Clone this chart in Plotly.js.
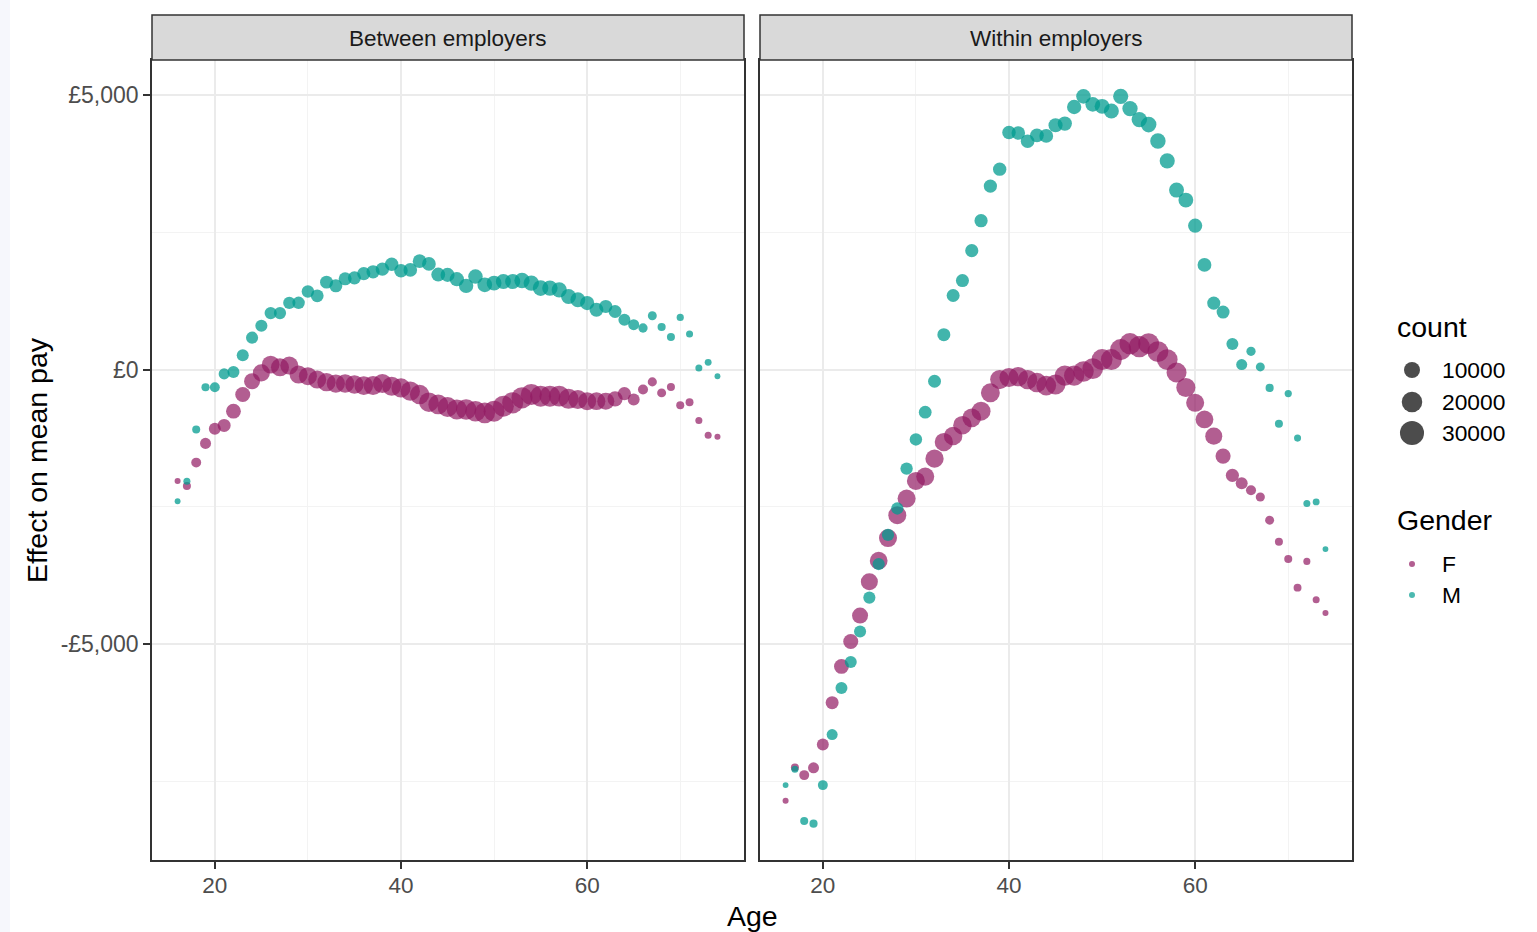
<!DOCTYPE html>
<html>
<head>
<meta charset="utf-8">
<script src="https://cdn.plot.ly/plotly-3.0.1.min.js"></script>
<style>
  html, body { margin: 0; padding: 0; background: #ffffff; }
  #chart { width: 1537px; height: 932px; }
</style>
</head>
<body>
<div id="chart"></div>
<script>
// ---------------- DATA ----------------
const ages = [16,17,18,19,20,21,22,23,24,25,26,27,28,29,30,31,32,33,34,35,36,37,38,39,40,41,42,43,44,45,
              46,47,48,49,50,51,52,53,54,55,56,57,58,59,60,61,62,63,64,65,66,67,68,69,70,71,72,73,74];

// Between employers – effect on mean pay (£)
const betweenF = [-2027,-2118,-1693,-1343,-1076,-1016,-757,-454,-212,-60,91,42,73,-91,-121,-182,-230,-254,-254,-272,
                  -290,-290,-254,-303,-333,-393,-454,-593,-635,-680,-726,-726,-757,-787,-757,-666,-605,-514,-454,-484,
                  -484,-484,-532,-545,-575,-575,-575,-532,-436,-545,-363,-224,-424,-315,-648,-593,-926,-1193,-1222];
const betweenM = [-2396,-2033,-1089,-321,-321,-78,-42,260,581,799,1029,1029,1216,1216,1421,1343,1592,1525,1652,1670,
                  1748,1780,1828,1918,1800,1815,1973,1924,1730,1724,1646,1525,1693,1543,1574,1603,1603,1621,1574,1483,
                  1483,1452,1330,1271,1211,1089,1149,1058,908,817,757,980,775,594,949,648,31,132,-122];

// Within employers – effect on mean pay (£)
const withinF = [-7847,-7242,-7381,-7248,-6824,-6062,-5403,-4949,-4477,-3860,-3479,-3067,-2650,-2347,-2027,-1948,-1621,-1319,-1210,-1011,
                 -877,-757,-423,-182,-145,-127,-182,-236,-290,-272,-109,-109,-36,18,182,182,363,472,417,472,
                 327,182,-54,-327,-604,-908,-1211,-1574,-1924,-2069,-2196,-2318,-2741,-3134,-3449,-3969,-3491,-4187,-4429];
const withinM = [-7563,-7273,-8216,-8264,-7563,-6643,-5795,-5323,-4768,-4150,-3539,-3008,-2528,-1802,-1271,-775,-212,635,1349,1621,
                 2165,2710,3340,3648,4314,4307,4156,4265,4253,4447,4477,4779,4973,4828,4792,4706,4973,4750,4550,4459,
                 4162,3799,3267,3086,2619,1906,1211,1047,466,91,332,49,-333,-986,-436,-1247,-2438,-2408,-3267];

// count (point size) by age
const countF = [90,750,2000,3000,4000,5300,8000,8300,10000,12000,13500,14000,14000,14000,14000,14000,14500,14500,15000,15000,
                15500,16000,16000,16500,16500,17000,17000,17500,18000,18500,19000,19500,20000,20500,21000,21000,21500,21500,21500,21000,
                21000,20500,18500,16500,14000,13500,12000,8500,5500,4000,2100,1400,1300,750,750,700,350,330,90];
const countM = [60,350,750,800,2000,3000,4000,4100,4200,4200,4300,4300,4400,4500,4600,5000,5200,5300,5300,5400,
                5500,5600,5700,5800,6000,6100,6200,6300,6500,6800,7000,7200,7500,7800,8000,8300,8500,8800,9000,9200,
                9000,8500,8200,8000,7000,6500,5500,5200,4000,3000,1500,1300,800,750,400,350,330,300,60];

const panelNames = ['Between employers', 'Within employers'];
const genders = ['F', 'M'];
const legendCounts = [10000, 20000, 30000];
const yTickVals = [-5000, 0, 5000];
const yTickText = ['-£5,000', '£0', '£5,000'];
const xTickVals = [20, 40, 60];

// ---------------- STYLE ----------------
const W = 1537, H = 932;
const FONT = 'Liberation Sans, Arial, Helvetica, sans-serif';
const colF = 'rgb(146,26,99)';
const colM = 'rgb(0,155,143)';
const ALPHA = 0.7;
const sizeOf = c => 5 + 0.11 * Math.sqrt(c);     // size scale (diameter px)

const px = v => v / W;                 // pixel → paper x
const py = v => (H - v) / H;           // pixel row → paper y
const plotTop = 60, plotBot = 860;
const panelX = [[152, 744], [760, 1352]];
const stripTop = 15;

const xRange = [13.25, 76.85];
const yRange = [-8926, 5635];

// ---------------- TRACES ----------------
const traces = [];
const series = [[betweenF, betweenM], [withinF, withinM]];
const counts = [countF, countM];
const colors = [colF, colM];
series.forEach((pair, p) => {
  pair.forEach((vals, g) => {
    traces.push({
      type: 'scatter', mode: 'markers',
      x: ages, y: vals,
      xaxis: p === 0 ? 'x' : 'x2', yaxis: p === 0 ? 'y' : 'y2',
      name: genders[g], showlegend: false,
      marker: { color: colors[g], opacity: g === 0 ? ALPHA : 0.74, size: counts[g].map(sizeOf), line: { width: 0 } },
      hoverinfo: 'x+y'
    });
  });
});

// legend panel (own hidden axes, pixel-like ranges)
const legX = 1412;
const countRows = [370, 402, 433];
const genderRows = [564, 595];
traces.push({
  type: 'scatter', mode: 'markers', xaxis: 'x3', yaxis: 'y3', showlegend: false, hoverinfo: 'skip',
  x: legendCounts.map(() => legX), y: countRows,
  marker: { color: 'rgb(51,51,51)', opacity: 0.88, size: legendCounts.map(sizeOf), line: { width: 0 } }
});
traces.push({
  type: 'scatter', mode: 'markers', xaxis: 'x3', yaxis: 'y3', showlegend: false, hoverinfo: 'skip',
  x: genders.map(() => legX), y: genderRows,
  marker: { color: colors, opacity: ALPHA, size: 6, line: { width: 0 } }
});

// ---------------- LAYOUT ----------------
const gridMajor = '#EBEBEB', gridMinor = '#F3F3F3', frame = '#333333';
function xAxis(p) {
  return {
    domain: [px(panelX[p][0]), px(panelX[p][1])], range: xRange, anchor: p === 0 ? 'y' : 'y2',
    tickmode: 'array', tickvals: xTickVals, ticks: 'outside', ticklen: 7, tickwidth: 1.5, tickcolor: frame,
    ticklabelstandoff: -3,
    tickfont: { family: FONT, size: 22.5, color: '#4D4D4D' },
    showgrid: true, gridcolor: gridMajor, gridwidth: 2,
    minor: { tickmode: 'array', tickvals: [10, 30, 50, 70], showgrid: true, gridcolor: gridMinor, gridwidth: 1, ticks: '' },
    zeroline: false, showline: true, linecolor: frame, linewidth: 1.5, mirror: true, fixedrange: true
  };
}
function yAxis(p) {
  return {
    domain: [py(plotBot), py(plotTop)], range: yRange, anchor: p === 0 ? 'x' : 'x2',
    tickmode: 'array', tickvals: yTickVals, ticktext: yTickText,
    ticks: p === 0 ? 'outside' : '', ticklen: 7, tickwidth: 1.5, tickcolor: frame,
    showticklabels: p === 0,
    tickfont: { family: FONT, size: 23, color: '#4D4D4D' },
    showgrid: true, gridcolor: gridMajor, gridwidth: 2,
    minor: { tickmode: 'array', tickvals: [-7500, -2500, 2500], showgrid: true, gridcolor: gridMinor, gridwidth: 1, ticks: '' },
    zeroline: false, showline: true, linecolor: frame, linewidth: 1.5, mirror: true, fixedrange: true
  };
}

const shapes = [
  { type: 'rect', xref: 'paper', yref: 'paper', x0: 0, x1: px(10), y0: 0, y1: 1,
    fillcolor: '#F6F7FC', line: { width: 0 }, layer: 'below' }
];
const annotations = [];
panelNames.forEach((name, p) => {
  shapes.push({
    type: 'rect', xref: 'paper', yref: 'paper',
    x0: px(panelX[p][0]), x1: px(panelX[p][1]), y0: py(plotTop), y1: py(stripTop),
    fillcolor: '#D9D9D9', line: { color: frame, width: 1.5 }
  });
  annotations.push({
    xref: 'paper', yref: 'paper', x: px((panelX[p][0] + panelX[p][1]) / 2), y: py((stripTop + plotTop) / 2 + 1),
    text: name, showarrow: false, xanchor: 'center', yanchor: 'middle',
    font: { family: FONT, size: 22.5, color: '#1A1A1A' }
  });
});
// axis titles
annotations.push({
  xref: 'paper', yref: 'paper', x: px(37), y: py((plotTop + plotBot) / 2), text: 'Effect on mean pay',
  textangle: -90, showarrow: false, xanchor: 'center', yanchor: 'middle',
  font: { family: FONT, size: 28.5, color: '#000000' }
});
annotations.push({
  xref: 'paper', yref: 'paper', x: px(752), y: py(916), text: 'Age',
  showarrow: false, xanchor: 'center', yanchor: 'middle',
  font: { family: FONT, size: 28.5, color: '#000000' }
});
// legend texts
annotations.push({ xref: 'x3', yref: 'y3', x: 1395, y: 327, text: 'count', showarrow: false,
  xanchor: 'left', yanchor: 'middle', font: { family: FONT, size: 28.5, color: '#000000' } });
legendCounts.forEach((c, i) => annotations.push({ xref: 'x3', yref: 'y3', x: 1440, y: countRows[i], text: String(c),
  showarrow: false, xanchor: 'left', yanchor: 'middle', font: { family: FONT, size: 22.8, color: '#000000' } }));
annotations.push({ xref: 'x3', yref: 'y3', x: 1395, y: 520, text: 'Gender', showarrow: false,
  xanchor: 'left', yanchor: 'middle', font: { family: FONT, size: 28.5, color: '#000000' } });
genders.forEach((g, i) => annotations.push({ xref: 'x3', yref: 'y3', x: 1440, y: genderRows[i], text: g,
  showarrow: false, xanchor: 'left', yanchor: 'middle', font: { family: FONT, size: 22.8, color: '#000000' } }));

const layout = {
  width: W, height: H, autosize: false,
  margin: { l: 0, r: 0, t: 0, b: 0, pad: 0 },
  paper_bgcolor: '#FFFFFF', plot_bgcolor: '#FFFFFF',
  font: { family: FONT },
  showlegend: false,
  xaxis: xAxis(0), yaxis: yAxis(0),
  xaxis2: xAxis(1), yaxis2: yAxis(1),
  xaxis3: { domain: [px(1380), 1], range: [1380, 1537], visible: false, fixedrange: true, anchor: 'y3' },
  yaxis3: { domain: [0, 1], range: [932, 0], visible: false, fixedrange: true, anchor: 'x3' },
  shapes: shapes, annotations: annotations
};

Plotly.newPlot('chart', traces, layout, { displayModeBar: false, responsive: false });
</script>
</body>
</html>
